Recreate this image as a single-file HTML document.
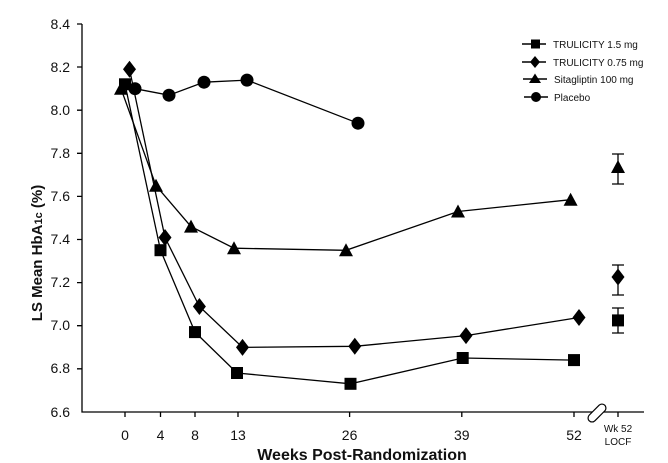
<!DOCTYPE html>
<html><head><style>body{margin:0;background:#fff}svg{display:block}text{font-family:"Liberation Sans",Arial,sans-serif;fill:#111}</style></head><body>
<svg width="668" height="463" viewBox="0 0 668 463">
<defs>
<g id="sq"><rect x="-6" y="-6" width="12" height="12" fill="#000"/></g>
<g id="di"><polygon points="0,-8.5 6.5,0 0,8.5 -6.5,0" fill="#000"/></g>
<g id="tr"><polygon points="0,-7 7,6 -7,6" fill="#000"/></g>
<g id="ci"><circle r="6.5" fill="#000"/></g>
</defs>
<g stroke="#000" stroke-width="1.3" fill="none">
<path d="M82,24 V412 H644"/>
<path d="M77,24h5M77,67h5M77,110.2h5M77,153.3h5M77,196.4h5M77,239.5h5M77,282.6h5M77,325.7h5M77,368.8h5"/>
<path d="M125,412v5M160.5,412v5M195,412v5M238,412v5M349.6,412v5M461.8,412v5M574,412v5M618,412v5"/>
</g>
<rect x="593" y="402" width="8" height="22" rx="4" fill="#fff" stroke="#000" stroke-width="1.2" transform="rotate(45 597 413)"/>
<g font-size="14" text-anchor="end">
<text x="70" y="29">8.4</text><text x="70" y="72">8.2</text><text x="70" y="115">8.0</text><text x="70" y="158">7.8</text><text x="70" y="201">7.6</text><text x="70" y="244">7.4</text><text x="70" y="287">7.2</text><text x="70" y="330">7.0</text><text x="70" y="373">6.8</text><text x="70" y="417">6.6</text>
</g>
<g font-size="14" text-anchor="middle">
<text x="125" y="440">0</text><text x="160.5" y="440">4</text><text x="195" y="440">8</text><text x="238" y="440">13</text><text x="349.6" y="440">26</text><text x="461.8" y="440">39</text><text x="574" y="440">52</text>
</g>
<g font-size="10" text-anchor="middle"><text x="618" y="432">Wk 52</text><text x="618" y="445">LOCF</text></g>
<text x="362" y="460" font-size="16" font-weight="bold" text-anchor="middle">Weeks Post-Randomization</text>
<text transform="translate(42,253) rotate(-90)" font-size="15" font-weight="bold" text-anchor="middle">LS Mean HbA<tspan font-size="11">1c</tspan> (%)</text>
<g stroke="#000" stroke-width="1.3" fill="none">
<polyline points="125,84.3 160.5,250.2 195,332.1 237,373 350.5,383.8 462.7,358 574,360.1"/>
<polyline points="129.5,69.2 165,237.5 199.4,306.5 242.5,347.4 354.8,346.3 466,335.6 579,317.5"/>
<polyline points="121,88.7 156,185.7 191,226.6 234,248.2 346,250.3 458,211.5 570.6,199.7"/>
<polyline points="135,88.7 169,95.2 204,82.2 247,80.1 358,123.2"/>
<path d="M612,308h12M618,308v25M612,333h12 M612,265h12M618,265v30M612,295h12 M612,154h12M618,154v30M612,184h12"/>
</g>
<g>
<use href="#sq" x="125" y="84.3"/><use href="#sq" x="160.5" y="250.2"/><use href="#sq" x="195" y="332.1"/><use href="#sq" x="237" y="373"/><use href="#sq" x="350.5" y="383.8"/><use href="#sq" x="462.7" y="358"/><use href="#sq" x="574" y="360.1"/><use href="#sq" x="618" y="320.4"/>
<use href="#di" x="129.5" y="69.2"/><use href="#di" x="165" y="237.5"/><use href="#di" x="199.4" y="306.5"/><use href="#di" x="242.5" y="347.4"/><use href="#di" x="354.8" y="346.3"/><use href="#di" x="466" y="335.6"/><use href="#di" x="579" y="317.5"/><use href="#di" x="618" y="277"/>
<use href="#tr" x="121" y="88.7"/><use href="#tr" x="156" y="185.7"/><use href="#tr" x="191" y="226.6"/><use href="#tr" x="234" y="248.2"/><use href="#tr" x="346" y="250.3"/><use href="#tr" x="458" y="211.5"/><use href="#tr" x="570.6" y="199.7"/><use href="#tr" x="618" y="167"/>
<use href="#ci" x="135" y="88.7"/><use href="#ci" x="169" y="95.2"/><use href="#ci" x="204" y="82.2"/><use href="#ci" x="247" y="80.1"/><use href="#ci" x="358" y="123.2"/>
</g>
<g stroke="#000" stroke-width="1.5"><path d="M522,44h24M522,62h24M523,79h24M524,97h24"/></g>
<rect x="531" y="39.5" width="9" height="9" fill="#000"/>
<polygon points="535,56 540,62 535,68 530,62" fill="#000"/>
<polygon points="535,73.5 541,83 529,83" fill="#000"/>
<circle cx="536" cy="97" r="5" fill="#000"/>
<g font-size="10"><text x="553" y="48">TRULICITY 1.5 mg</text><text x="553" y="66">TRULICITY 0.75 mg</text><text x="554" y="83">Sitagliptin 100 mg</text><text x="554" y="101">Placebo</text></g>
</svg>
</body></html>
